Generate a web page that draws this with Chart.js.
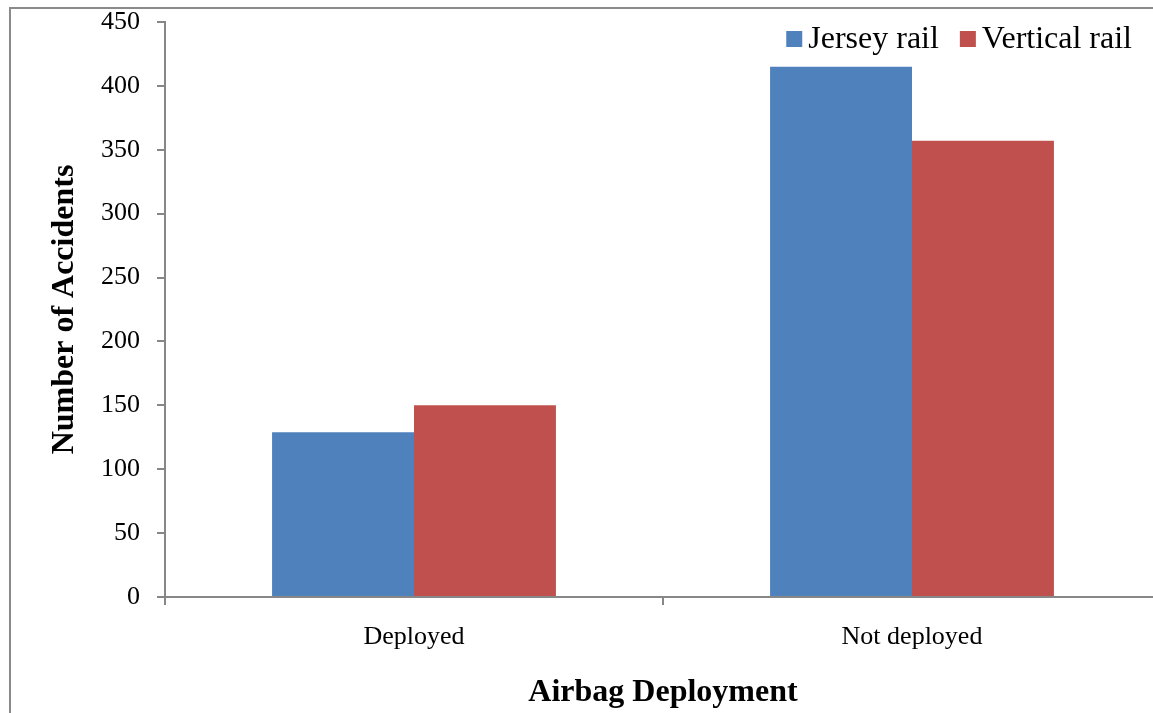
<!DOCTYPE html>
<html>
<head>
<meta charset="utf-8">
<title>Airbag Deployment</title>
<script src="https://cdn.jsdelivr.net/npm/chart.js@4/dist/chart.umd.min.js"></script>
<style>
    html, body { margin: 0; padding: 0; background: #fff; overflow: hidden; }
    #frame {
        position: absolute; left: 9px; top: 7px;
        width: 1300px; height: 900px;
        border: 2px solid #8a8a8a;
    }
    #chart-accidents { position: absolute; left: 0; top: 0; }
</style>
</head>
<body>
<div id="frame"></div>
<canvas id="chart-accidents" width="1175" height="713"></canvas>
<script>
// Accident counts by airbag deployment, split by rail type
const categories = ['Deployed', 'Not deployed'];
const jerseyRail = [129, 415];
const verticalRail = [150, 357];
const seriesNames = ['Jersey rail', 'Vertical rail'];
const yTicks = { min: 0, max: 450, step: 50 };

const SERIF = "'Liberation Serif', 'Times New Roman', serif";
const AXIS_GREY = '#878787';

// Compact legend in the top-right corner of the plot (small gap between swatch and text)
const cornerLegend = {
    id: 'cornerLegend',
    afterDraw(chart) {
        const c = chart.ctx;
        const box = 16, gap = 6, itemGap = 21;
        const rightEdge = 1132, midY = 39;
        c.save();
        c.font = '32px ' + SERIF;
        c.textBaseline = 'middle';
        c.textAlign = 'left';
        const items = chart.data.datasets.map(ds => ({
            text: ds.label,
            color: ds.backgroundColor,
            w: c.measureText(ds.label).width
        }));
        let total = items.reduce((s, it) => s + box + gap + it.w, 0) + itemGap * (items.length - 1);
        let x = rightEdge - total;
        items.forEach(it => {
            c.fillStyle = it.color;
            c.fillRect(x, midY - box / 2, box, box);
            c.fillStyle = '#000';
            c.fillText(it.text, x + box + gap, midY + 1);
            x += box + gap + it.w + itemGap;
        });
        c.restore();
    }
};

const ctx = document.getElementById('chart-accidents').getContext('2d');

window.accidentsChart = new Chart(ctx, {
    type: 'bar',
    data: {
        labels: categories,
        datasets: [
            {
                label: seriesNames[0],
                data: jerseyRail,
                backgroundColor: '#4F81BD',
                borderWidth: 0
            },
            {
                label: seriesNames[1],
                data: verticalRail,
                backgroundColor: '#C0504D',
                borderWidth: 0
            }
        ]
    },
    plugins: [cornerLegend],
    options: {
        responsive: false,
        animation: false,
        devicePixelRatio: 1,
        layout: { padding: { top: 22, right: 14, left: 0, bottom: 0 } },
        datasets: {
            bar: { categoryPercentage: 0.57, barPercentage: 1.0 }
        },
        plugins: {
            tooltip: { enabled: false },
            legend: { display: false }
        },
        scales: {
            x: {
                grid: {
                    drawOnChartArea: false,
                    drawTicks: true,
                    tickLength: 8,
                    color: AXIS_GREY,
                    lineWidth: 2
                },
                border: { color: AXIS_GREY, width: 2 },
                ticks: {
                    color: '#000',
                    padding: 17,
                    font: { family: SERIF, size: 26 }
                },
                title: {
                    display: true,
                    text: 'Airbag Deployment',
                    color: '#000',
                    padding: { top: 0, bottom: 1 },
                    font: { family: SERIF, size: 32, weight: 'bold' }
                },
                afterFit: (scale) => {
                    scale.height = 116;
                    scale.paddingLeft = 0;
                    scale.paddingRight = 0;
                }
            },
            y: {
                min: yTicks.min,
                max: yTicks.max,
                grid: {
                    drawOnChartArea: false,
                    drawTicks: true,
                    tickLength: 8,
                    color: AXIS_GREY,
                    lineWidth: 2
                },
                border: { color: AXIS_GREY, width: 2 },
                ticks: {
                    stepSize: yTicks.step,
                    color: '#000',
                    padding: 17,
                    font: { family: SERIF, size: 26 }
                },
                title: {
                    display: true,
                    text: 'Number of Accidents',
                    color: '#000',
                    padding: { top: 46, bottom: 0 },
                    font: { family: SERIF, size: 32, weight: 'bold' }
                },
                afterFit: (scale) => {
                    scale.width = 165;
                    scale.paddingTop = 0;
                    scale.paddingBottom = 0;
                }
            }
        }
    }
});
</script>
</body>
</html>
